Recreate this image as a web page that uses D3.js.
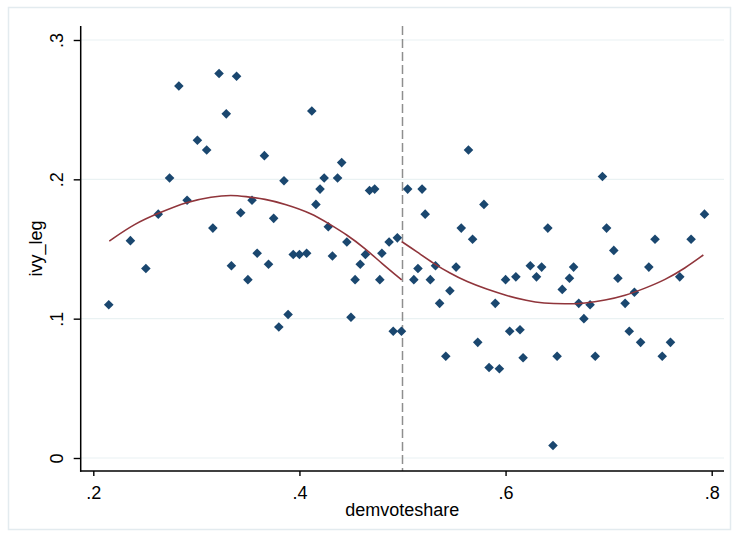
<html>
<head>
<meta charset="utf-8">
<style>
body
{
  margin:0;
  background:#fff;
}
text
{
  font-family: "Liberation Sans", Arial, sans-serif;
}
</style>
<script src="https://cdnjs.cloudflare.com/ajax/libs/d3/7.8.5/d3.min.js"></script>
<script>
// scatter values, left of the cutoff first
var demvoteshare = [
  0.322, 0.339, 0.283, 0.329, 0.301, 0.310, 0.274, 0.291, 0.263, 0.343,
  0.316, 0.236, 0.251, 0.334, 0.350, 0.215, 0.412, 0.366, 0.441, 0.385,
  0.424, 0.437, 0.420, 0.468, 0.473, 0.354, 0.416, 0.375, 0.428, 0.446,
  0.359, 0.394, 0.400, 0.407, 0.432, 0.480, 0.487, 0.495, 0.464, 0.370,
  0.459, 0.454, 0.478, 0.389, 0.380, 0.450, 0.491, 0.499,
  0.564, 0.505, 0.519, 0.522, 0.579, 0.557, 0.568, 0.641, 0.515, 0.511,
  0.527, 0.532, 0.552, 0.546, 0.536, 0.590, 0.600, 0.610, 0.624, 0.635,
  0.630, 0.655, 0.542, 0.573, 0.604, 0.614, 0.584, 0.594, 0.617, 0.650,
  0.646, 0.694, 0.793, 0.698, 0.745, 0.780, 0.705, 0.666, 0.739, 0.662,
  0.709, 0.769, 0.725, 0.671, 0.682, 0.716, 0.676, 0.720, 0.731, 0.760,
  0.687, 0.752
];
var ivy_leg = [
  0.276, 0.274, 0.267, 0.247, 0.228, 0.221, 0.201, 0.185, 0.175, 0.176,
  0.165, 0.156, 0.136, 0.138, 0.128, 0.110, 0.249, 0.217, 0.212, 0.199,
  0.201, 0.201, 0.193, 0.192, 0.193, 0.185, 0.182, 0.172, 0.166, 0.155,
  0.147, 0.146, 0.146, 0.147, 0.145, 0.147, 0.155, 0.158, 0.146, 0.139,
  0.139, 0.128, 0.128, 0.103, 0.094, 0.101, 0.091, 0.091,
  0.221, 0.193, 0.193, 0.175, 0.182, 0.165, 0.157, 0.165, 0.136, 0.128,
  0.128, 0.138, 0.137, 0.120, 0.111, 0.111, 0.128, 0.130, 0.138, 0.137,
  0.130, 0.121, 0.073, 0.083, 0.091, 0.092, 0.065, 0.064, 0.072, 0.073,
  0.009, 0.202, 0.175, 0.165, 0.157, 0.157, 0.149, 0.137, 0.137, 0.129,
  0.129, 0.130, 0.119, 0.111, 0.110, 0.111, 0.100, 0.091, 0.083, 0.083,
  0.073, 0.073
];

// fitted curves
var fitLeftX  = [0.2155, 0.2405, 0.2628, 0.2912, 0.3149, 0.3343, 0.3472, 0.3666, 0.3860, 0.4119, 0.4280, 0.4464, 0.4636, 0.4798, 0.4992];
var fitLeftY  = [0.1557, 0.1684, 0.1756, 0.1840, 0.1876, 0.1888, 0.1877, 0.1859, 0.1823, 0.1756, 0.1684, 0.1601, 0.1505, 0.1397, 0.1278];
var fitRightX = [0.4992, 0.5138, 0.5299, 0.5461, 0.5623, 0.5817, 0.6011, 0.6205, 0.6366, 0.6577, 0.6771, 0.6965, 0.7159, 0.7353, 0.7547, 0.7741, 0.7919];
var fitRightY = [0.1553, 0.1481, 0.1397, 0.1326, 0.1265, 0.1211, 0.1165, 0.1129, 0.1110, 0.1105, 0.1110, 0.1132, 0.1165, 0.1218, 0.1278, 0.1362, 0.1457];

var cutoff = 0.5;
var xTicks = [0.2, 0.4, 0.6, 0.8];
var yTicks = [0, 0.1, 0.2, 0.3];

var w = 739, h = 538;
var navy = "#1a476f", maroon = "#90353b";

function fmt(v)
{
  var s = d3.format(".1f")(v);
  return v == 0 ? "0" : s.replace(/^0/, "");
}

window.onload = function()
{
  var svg = d3.select("body").append("svg")
    .attr("width", w)
    .attr("height", h);

  svg.append("rect")
    .attr("x", 8.5).attr("y", 7.5)
    .attr("width", 722).attr("height", 522)
    .attr("fill", "#fff")
    .attr("stroke", "#e3ebef")
    .attr("stroke-width", 1.5);

  var x = d3.scaleLinear().domain([0.2, 0.8]).range([93.3, 711.7]);
  var y = d3.scaleLinear().domain([0, 0.3]).range([458, 40]);
  var left = 80.7, right = 724, top = 26, bottom = 471;

  // grid
  svg.append("g").selectAll("line").data(yTicks).enter().append("line")
    .attr("x1", left).attr("x2", right)
    .attr("y1", function(d){ return y(d); })
    .attr("y2", function(d){ return y(d); })
    .attr("stroke", "#eaf2f3")
    .attr("stroke-width", 1.2);

  // cutoff line
  svg.append("line")
    .attr("x1", x(cutoff)).attr("x2", x(cutoff))
    .attr("y1", top).attr("y2", bottom)
    .attr("stroke", "#8e8e8e")
    .attr("stroke-width", 1.5)
    .attr("stroke-dasharray", "9,4");

  // points
  var pts = demvoteshare.map(function(d, i){ return [d, ivy_leg[i]]; });
  svg.append("g").selectAll("path").data(pts).enter().append("path")
    .attr("d", d3.symbol().type(d3.symbolSquare).size(46))
    .attr("transform", function(d){ return "translate(" + x(d[0]) + "," + y(d[1]) + ") rotate(45)"; })
    .attr("fill", navy);

  // fitted curves on each side
  var line = d3.line()
    .x(function(d){ return x(d[0]); })
    .y(function(d){ return y(d[1]); })
    .curve(d3.curveBasis);
  [[fitLeftX, fitLeftY], [fitRightX, fitRightY]].forEach(function(f) {
    svg.append("path")
      .datum(f[0].map(function(d, i){ return [d, f[1][i]]; }))
      .attr("d", line)
      .attr("fill", "none")
      .attr("stroke", maroon)
      .attr("stroke-width", 1.6);
  });

  // axes
  var yAxis = svg.append("g")
    .attr("transform", "translate(" + left + ",0)")
    .call(d3.axisLeft(y).tickValues(yTicks).tickFormat(fmt).tickSize(7).tickSizeOuter(0));
  yAxis.select(".domain").remove();
  yAxis.selectAll("line").attr("stroke", "#000").attr("stroke-width", 1.4);
  yAxis.selectAll("text")
    .attr("x", 0).attr("dy", 0)
    .attr("transform", "translate(-18,0) rotate(-90)")
    .attr("text-anchor", "middle")
    .attr("fill", "#000")
    .style("font-size", "18px");

  var xAxis = svg.append("g")
    .attr("transform", "translate(0," + bottom + ")")
    .call(d3.axisBottom(x).tickValues(xTicks).tickFormat(fmt).tickSize(5).tickSizeOuter(0));
  xAxis.select(".domain").remove();
  xAxis.selectAll("line").attr("stroke", "#000").attr("stroke-width", 1.4);
  xAxis.selectAll("text")
    .attr("y", 28).attr("dy", 0)
    .attr("fill", "#000")
    .style("font-size", "18px");

  svg.append("line")
    .attr("x1", left).attr("x2", left).attr("y1", top).attr("y2", bottom + 0.7)
    .attr("stroke", "#000").attr("stroke-width", 1.5);
  svg.append("line")
    .attr("x1", left - 0.7).attr("x2", right).attr("y1", bottom).attr("y2", bottom)
    .attr("stroke", "#000").attr("stroke-width", 1.5);

  // titles
  svg.append("text")
    .attr("x", (left + right) / 2).attr("y", 516)
    .attr("text-anchor", "middle")
    .style("font-size", "18px")
    .text("demvoteshare");
  svg.append("text")
    .attr("transform", "translate(42," + (top + bottom) / 2 + ") rotate(-90)")
    .attr("text-anchor", "middle")
    .style("font-size", "18px")
    .text("ivy_leg");
};
</script>
</head>
<body>
</body>
</html>
